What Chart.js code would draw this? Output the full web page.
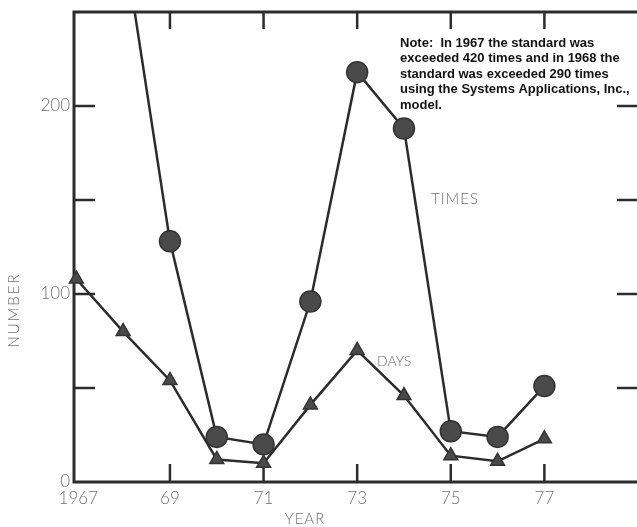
<!DOCTYPE html>
<html>
<head>
<meta charset="utf-8">
<script src="https://cdn.jsdelivr.net/npm/chart.js@4"></script>
<style>
    html, body { margin: 0; padding: 0; background: #fff; overflow: hidden; }
    #wrap { width: 637px; height: 527px; overflow: hidden; }
</style>
</head>
<body>
<div id="wrap"><canvas id="c" width="650" height="527"></canvas></div>
<script>
// --- data ---
const years = [1967, 1968, 1969, 1970, 1971, 1972, 1973, 1974, 1975, 1976, 1977];
const times = [420, 290, 128, 24, 20, 96, 218, 188, 27, 24, 51];
const days = [108, 80, 54, 12, 10, 41, 70, 46, 14, 11, 23];
const yTicks = [50, 100, 150, 200];
const yLabels = [0, 100, 200];
const xTicks = [1969, 1971, 1973, 1975, 1977];
const xLabels = ['1967', '69', '71', '73', '75', '77'];
const xLabelYears = [1967, 1969, 1971, 1973, 1975, 1977];
const note = [
    'Note:  In 1967 the standard was',
    'exceeded 420 times and in 1968 the',
    'standard was exceeded 290 times',
    'using the Systems Applications, Inc.,',
    'model.',
];

const INK = '#2c2c2c';
const GREY = '#707070';
const LIGHT = "300 17px Lato, 'Noto Sans', sans-serif";

/* frame, inward ticks and all the lettering */
const frame = {
    id: 'frame',
    beforeDatasetsDraw(chart) {
        const { ctx, chartArea: a, scales: { x, y } } = chart;
        ctx.save();
        ctx.strokeStyle = INK;
        ctx.lineWidth = 3;
        ctx.beginPath();
        ctx.moveTo(660, a.top);
        ctx.lineTo(a.left, a.top);
        ctx.lineTo(a.left, a.bottom);
        ctx.lineTo(660, a.bottom);
        ctx.stroke();

        ctx.lineWidth = 2.5;
        ctx.beginPath();
        yTicks.forEach(v => {
            const py = y.getPixelForValue(v);
            ctx.moveTo(a.left, py); ctx.lineTo(a.left + 21, py);
            ctx.moveTo(a.right, py); ctx.lineTo(a.right - 21, py);
        });
        xTicks.forEach(v => {
            const px = x.getPixelForValue(v);
            ctx.moveTo(px, a.bottom); ctx.lineTo(px, a.bottom - 18);
            ctx.moveTo(px, a.top); ctx.lineTo(px, a.top + 17);
        });
        ctx.stroke();
        ctx.restore();
    },
    afterDraw(chart) {
        const { ctx, scales: { x, y } } = chart;
        ctx.save();
        ctx.fillStyle = GREY;
        ctx.font = LIGHT;
        ctx.textBaseline = 'middle';
        ctx.textAlign = 'right';
        yLabels.forEach(v => ctx.fillText(String(v), 70, y.getPixelForValue(v)));
        ctx.textAlign = 'center';
        xLabelYears.forEach((v, i) => ctx.fillText(xLabels[i], x.getPixelForValue(v) + (i === 0 ? 2 : 0), 499));

        ctx.font = "300 15px Lato, 'Noto Sans', sans-serif";
        ctx.letterSpacing = '1px';
        ctx.fillText('YEAR', 305, 519);
        ctx.textAlign = 'left';
        ctx.fillText('TIMES', 431, 199);
        ctx.letterSpacing = '0px';
        ctx.font = "300 14px Lato, 'Noto Sans', sans-serif";
        ctx.fillText('DAYS', 377, 361);

        ctx.save();
        ctx.translate(14, 310);
        ctx.rotate(-Math.PI / 2);
        ctx.textAlign = 'center';
        ctx.font = "300 15px Lato, 'Noto Sans', sans-serif";
        ctx.letterSpacing = '2px';
        ctx.fillText('NUMBER', 0, 0);
        ctx.restore();

        ctx.fillStyle = '#111';
        ctx.font = "bold 13px 'Liberation Sans', Arial, sans-serif";
        ctx.textAlign = 'left';
        note.forEach((t, i) => ctx.fillText(t, 400, 43 + i * 15.6));
        ctx.restore();
    },
};

const pts = arr => years.map((yr, i) => ({ x: yr, y: arr[i] }));

new Chart(document.getElementById('c'), {
    type: 'line',
    data: {
        datasets: [
            {
                label: 'TIMES',
                data: pts(times),
                borderColor: INK,
                borderWidth: 2.5,
                pointStyle: 'circle',
                pointRadius: 10.5,
                pointBackgroundColor: '#4a4a4a',
                pointBorderColor: '#333',
                pointBorderWidth: 1.5,
                clip: { left: 12, top: 0, right: 12, bottom: 12 },
            },
            {
                label: 'DAYS',
                data: pts(days),
                borderColor: INK,
                borderWidth: 2.5,
                pointStyle: 'triangle',
                pointRadius: 8,
                pointBackgroundColor: '#4a4a4a',
                pointBorderColor: '#333',
                pointBorderWidth: 1.5,
                clip: { left: 12, top: 0, right: 12, bottom: 12 },
            },
        ],
    },
    options: {
        responsive: false,
        animation: false,
        layout: { padding: { left: 74, top: 11, right: 5, bottom: 45 } },
        plugins: { legend: { display: false }, tooltip: { enabled: false } },
        scales: {
            x: { type: 'linear', min: 1966.95, max: 1979, display: false },
            y: { min: 0, max: 250, display: false },
        },
    },
    plugins: [frame],
});
</script>
</body>
</html>
